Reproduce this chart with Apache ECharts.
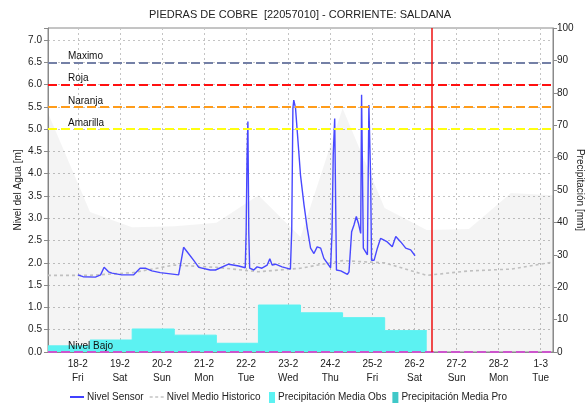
<!DOCTYPE html>
<html>
<head>
<meta charset="utf-8">
<script src="https://cdn.jsdelivr.net/npm/echarts@6/dist/echarts.min.js"></script>
<style>
  html, body { margin: 0; padding: 0; background: #fff; }
  #chart { width: 587px; height: 404px; }
</style>
</head>
<body>
<div id="chart"></div>
<script>
// Station readings, Feb 2022 (times are UTC, "MM-DD HH:mm")
const YEAR = 2022;

// Water level measured by the sensor [m]
const sensorTimes = [
  '02-18 00:00','02-18 03:00','02-18 10:00','02-18 13:00','02-18 15:00','02-18 17:30','02-18 19:30',
  '02-19 01:00','02-19 07:45','02-19 11:30','02-19 14:30','02-19 18:15','02-19 23:00',
  '02-20 09:30','02-20 10:30','02-20 12:20','02-20 14:20','02-20 18:00','02-20 21:00',
  '02-21 03:30','02-21 06:30','02-21 14:00','02-21 19:45','02-21 23:30',
  '02-22 00:00','02-22 00:30','02-22 01:00','02-22 01:30','02-22 02:00','02-22 04:20','02-22 06:15',
  '02-22 09:00','02-22 12:00','02-22 13:30','02-22 14:50','02-22 16:45','02-22 20:30',
  '02-23 01:15','02-23 02:00','02-23 02:40','02-23 03:10','02-23 04:10','02-23 05:10','02-23 07:00',
  '02-23 09:00','02-23 10:50','02-23 12:45','02-23 14:40','02-23 16:30','02-23 18:30','02-23 20:20',
  '02-24 00:10','02-24 01:00','02-24 01:40','02-24 02:30','02-24 03:00','02-24 03:30','02-24 06:00',
  '02-24 09:45','02-24 10:40','02-24 12:10','02-24 13:30','02-24 14:50','02-24 16:00','02-24 17:20',
  '02-24 17:50','02-24 18:50','02-24 21:10','02-24 22:00','02-24 23:00','02-24 23:30',
  '02-25 01:00','02-25 02:50','02-25 04:40','02-25 06:40','02-25 08:30','02-25 11:20','02-25 13:20',
  '02-25 16:10','02-25 19:00','02-25 21:50','02-26 00:20'
];
const sensorLevels = [
  1.73,1.69,1.68,1.73,1.90,1.80,1.77,
  1.73,1.73,1.88,1.88,1.82,1.78,
  1.73,1.77,2.35,2.25,2.06,1.90,
  1.84,1.84,1.97,1.93,1.89,
  2.70,4.35,5.17,2.70,1.88,1.84,1.91,
  1.88,1.95,2.09,1.95,1.97,1.91,
  1.86,2.74,5.47,5.65,5.47,5.43,3.97,
  3.30,2.78,2.33,2.21,2.36,2.33,2.10,
  1.89,2.70,4.42,5.24,3.52,1.84,1.82,
  1.74,1.80,2.70,2.85,3.04,2.89,2.66,
  5.77,2.33,2.18,5.54,3.90,2.06,
  2.06,2.33,2.55,2.51,2.47,2.36,2.59,
  2.47,2.33,2.29,2.16
];

// Daily references at 07:00 (historic envelope and historic mean) [m]
const dailyTimes = [
  '02-17 07:00','02-18 07:00','02-19 07:00','02-20 07:00','02-21 07:00','02-22 07:00','02-23 07:00',
  '02-24 07:00','02-25 07:00','02-26 07:00','02-27 07:00','02-28 07:00','03-01 07:00'
];
const historicMax  = [5.36,3.14,2.80,2.82,2.90,3.52,2.58,5.47,3.23,2.74,2.76,3.57,3.52];
const historicMean = [1.72,1.72,1.78,1.95,1.90,1.80,1.88,2.05,2.00,1.72,1.82,1.86,2.02];

// Daily rainfall, 07:00 to 07:00 [mm]
const precipObsStarts = [
  '02-17 07:00','02-18 07:00','02-19 07:00','02-20 07:00','02-21 07:00',
  '02-22 07:00','02-23 07:00','02-24 07:00','02-25 07:00'
];
const precipObs = [1.9,3.7,7.1,5.2,2.7,14.5,12.1,10.6,6.6];
const precipObsEnd = '02-26 07:00';
const precipProStarts = ['02-26 07:00','02-27 07:00','02-28 07:00'];
const precipPro = [0,0,0];
const precipProEnd = '03-01 07:00';

// Alert thresholds [m]
const thresholdNames  = ['Maximo','Roja','Naranja','Amarilla','Nivel Bajo'];
const thresholdLevels = [6.5, 6.0, 5.5, 5.0, 0.0];
const thresholdColors = ['#7480a6','#ff1010','#ff9c1a','#ffff10','#cc55cc'];

// Time axis: ticks at midnight, labels day-month and weekday
const axisStart = '02-17 07:00';
const axisEnd   = '03-01 07:00';
const tickDays  = ['02-18','02-19','02-20','02-21','02-22','02-23','02-24','02-25','02-26','02-27','02-28','03-01'];
const tickLabels = ['18-2','19-2','20-2','21-2','22-2','23-2','24-2','25-2','26-2','27-2','28-2','1-3'];
const tickWeekdays = ['Fri','Sat','Sun','Mon','Tue','Wed','Thu','Fri','Sat','Sun','Mon','Tue'];
const nowTime = '02-26 09:50';

function ts(s) {
  const [md, hm] = s.split(' ');
  const [m, d] = md.split('-').map(Number);
  const [h, mi] = (hm || '00:00').split(':').map(Number);
  return Date.UTC(YEAR, m - 1, d, h, mi);
}
const pairs = (times, vals) => times.map((t, i) => [ts(t), vals[i]]);
const stepPairs = (starts, vals, end) =>
  pairs(starts, vals).concat([[ts(end), vals[vals.length - 1]]]);

const tickStamps = tickDays.map(d => ts(d + ' 00:00'));

const FONT = "'Liberation Sans', Arial, sans-serif";
const textColor = '#222';

// legend glyphs: a solid stroke and a short dashed stroke
const ICON_LINE = 'path://M0,0H14V1.5H0Z';
const ICON_DASH = 'path://M0,0H3V1.5H0Z M5.5,0H8.5V1.5H5.5Z M11,0H14V1.5H11Z';

const chart = echarts.init(document.getElementById('chart'), null, { renderer: 'canvas' });

const option = {
  animation: false,
  useUTC: true,
  backgroundColor: '#ffffff',
  title: {
    text: 'PIEDRAS DE COBRE  [22057010] - CORRIENTE: SALDANA',
    left: 300, top: 9, textAlign: 'center', padding: 0,
    textStyle: { fontFamily: FONT, fontSize: 11, fontWeight: 'normal', color: textColor }
  },
  legend: [
    {
      left: 70, top: 392, padding: 0,
      itemWidth: 14, itemHeight: 10, itemGap: 6,
      textStyle: { fontFamily: FONT, fontSize: 10, color: textColor, padding: [0, 0, 0, -2] },
      data: [
        { name: 'Nivel Sensor', icon: ICON_LINE, itemStyle: { color: '#0000ff' } },
        { name: 'Nivel Medio Historico', icon: ICON_DASH, itemStyle: { color: '#c4c4c4' } }
      ]
    },
    {
      left: 269, top: 392, padding: 0,
      itemWidth: 6, itemHeight: 11, itemGap: 6,
      textStyle: { fontFamily: FONT, fontSize: 10, color: textColor, padding: [0, 0, 0, -2] },
      data: [
        { name: 'Precipitación Media Obs', icon: 'rect' },
        { name: 'Precipitación Media Pro', icon: 'rect' }
      ]
    }
  ],
  grid: {
    left: 48, right: 34, top: 28, bottom: 52,
    outerBoundsMode: 'none', containLabel: false,
    show: true, borderColor: '#8a8a8a', borderWidth: 1, backgroundColor: 'transparent'
  },
  xAxis: {
    type: 'time',
    min: ts(axisStart), max: ts(axisEnd),
    minInterval: 86400000, maxInterval: 86400000,
    axisLine: { show: true, lineStyle: { color: '#8a8a8a' } },
    axisTick: { show: false },
    splitLine: { show: true, lineStyle: { color: '#c4c4c4', type: [2, 3], width: 1 } },
    axisLabel: {
      interval: 0, margin: 5, hideOverlap: false,
      fontFamily: FONT, fontSize: 10, color: textColor, lineHeight: 14,
      formatter: function (value) {
        const i = tickStamps.indexOf(Math.round(value));
        return i < 0 ? '' : tickLabels[i] + '\n' + tickWeekdays[i];
      }
    }
  },
  yAxis: [
    {
      type: 'value', min: 0, max: 7.27, interval: 0.5,
      name: 'Nivel del Agua [m]', nameLocation: 'middle', nameGap: 25, nameRotate: 90,
      nameMoveOverlap: false,
      nameTextStyle: { fontFamily: FONT, fontSize: 10, color: textColor },
      axisLine: { show: true, lineStyle: { color: '#8a8a8a' } },
      axisTick: { show: true, length: 4, lineStyle: { color: '#8a8a8a' } },
      splitLine: { show: true, lineStyle: { color: '#c4c4c4', type: [2, 3], width: 1 } },
      axisLabel: {
        margin: 6, fontFamily: FONT, fontSize: 10, color: textColor,
        formatter: function (v) {
          return Math.abs(v * 2 - Math.round(v * 2)) > 1e-6 ? '' : v.toFixed(1);
        }
      }
    },
    {
      type: 'value', min: 0, max: 100, interval: 10, position: 'right',
      name: 'Precipitación [mm]', nameLocation: 'middle', nameGap: 22, nameRotate: -90,
      nameMoveOverlap: false,
      nameTextStyle: { fontFamily: FONT, fontSize: 10, color: textColor },
      axisLine: { show: true, lineStyle: { color: '#8a8a8a' } },
      axisTick: { show: true, length: 4, lineStyle: { color: '#8a8a8a' } },
      splitLine: { show: false },
      axisLabel: { margin: 4, fontFamily: FONT, fontSize: 10, color: textColor }
    }
  ],
  series: [
    {
      // historic envelope (grey band)
      name: 'Rango Historico', type: 'line', yAxisIndex: 0,
      data: pairs(dailyTimes, historicMax),
      symbol: 'none', silent: true, z: 1,
      lineStyle: { width: 0, color: 'rgba(0,0,0,0)' },
      areaStyle: { color: 'rgba(0,0,0,0.058)', origin: 'start' }
    },
    {
      name: 'Precipitación Media Obs', type: 'line', yAxisIndex: 1, step: 'end',
      data: stepPairs(precipObsStarts, precipObs, precipObsEnd),
      symbol: 'none', z: 2, color: '#5cf2f2',
      lineStyle: { width: 1, color: '#5cf2f2' },
      areaStyle: { color: '#5cf2f2', opacity: 1, origin: 'start' }
    },
    {
      name: 'Precipitación Media Pro', type: 'line', yAxisIndex: 1, step: 'end',
      data: stepPairs(precipProStarts, precipPro, precipProEnd),
      symbol: 'none', z: 2, color: '#40c8c8',
      lineStyle: { width: 0, color: '#40c8c8' },
      areaStyle: { color: '#40c8c8', opacity: 1, origin: 'start' }
    },
    {
      name: 'Nivel Medio Historico', type: 'line', yAxisIndex: 0,
      data: pairs(dailyTimes, historicMean),
      symbol: 'none', z: 3, color: '#c0c0c0',
      lineStyle: { width: 1.6, color: '#c0c0c0', type: [3, 3] }
    },
    {
      name: 'Nivel Sensor', type: 'line', yAxisIndex: 0,
      data: pairs(sensorTimes, sensorLevels),
      symbol: 'none', z: 4, color: '#0000ff',
      lineStyle: { width: 1.4, color: '#4848ff' },
      markLine: {
        silent: true, symbol: 'none', animation: false,
        label: {
          show: true, position: 'insideStartTop', formatter: '{b}',
          fontFamily: FONT, fontSize: 10, color: '#111', distance: 1,
          padding: [0, 0, 0, 19]
        },
        data: thresholdNames.map((n, i) => ({
          name: n, yAxis: thresholdLevels[i],
          lineStyle: { color: thresholdColors[i], width: 2, type: [9, 4] }
        })).concat([{
          name: '', xAxis: ts(nowTime),
          label: { show: false },
          lineStyle: { color: '#ee1111', width: 1.5, type: 'solid' }
        }])
      }
    }
  ]
};

chart.setOption(option);
</script>
</body>
</html>
